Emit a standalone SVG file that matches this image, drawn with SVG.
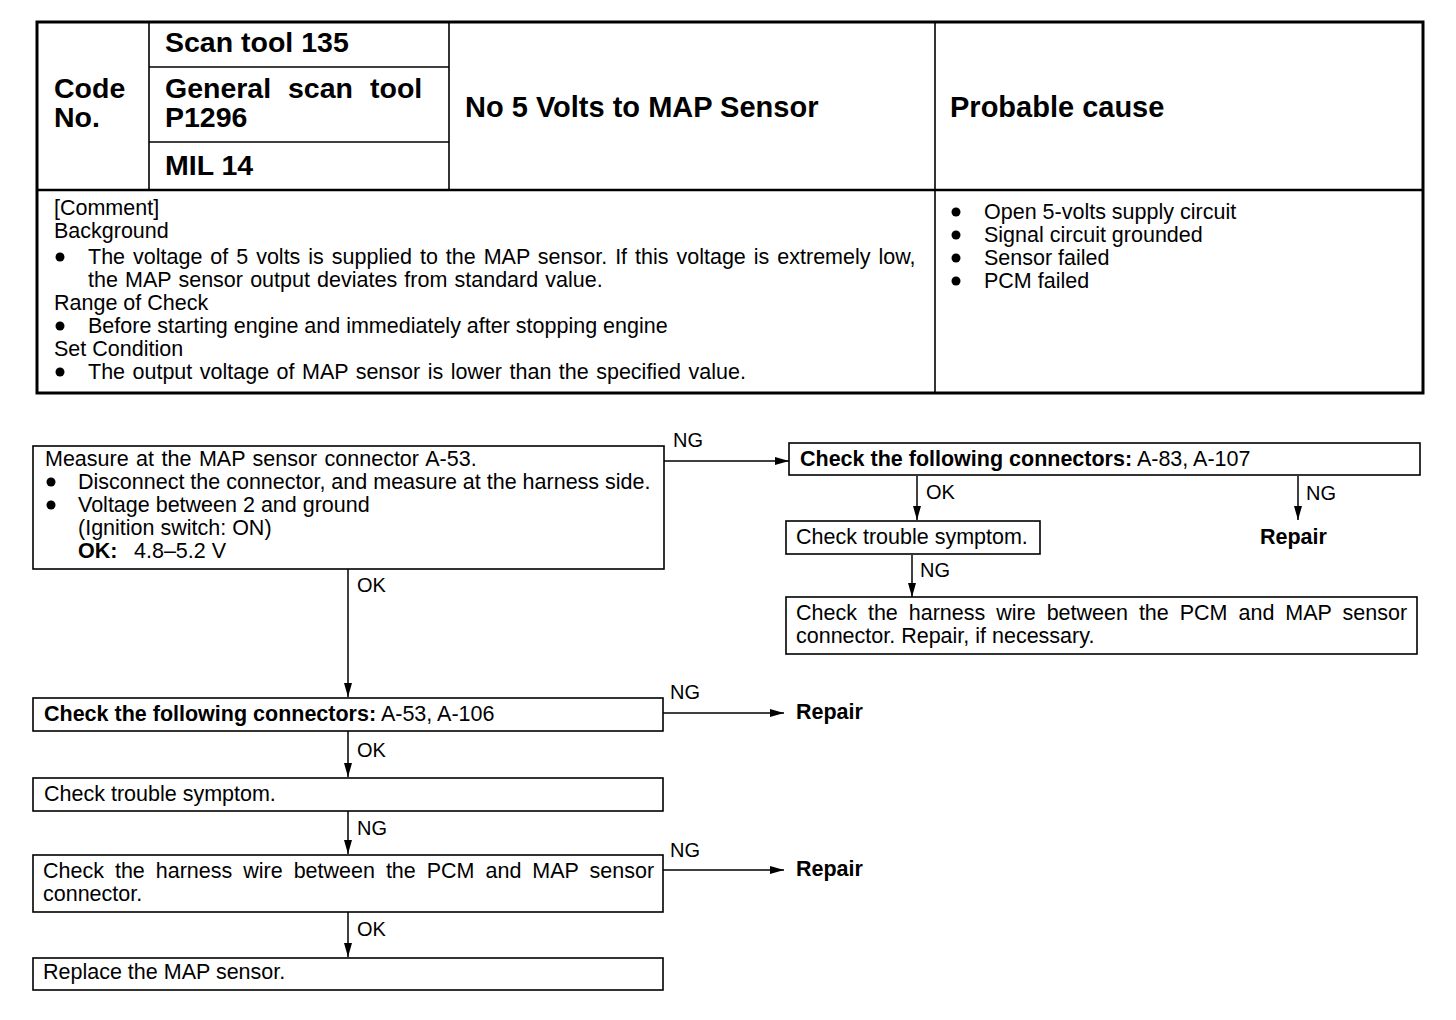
<svg xmlns="http://www.w3.org/2000/svg" width="1456" height="1020" viewBox="0 0 1456 1020">
<style>
text{font-family:"Liberation Sans",Arial,sans-serif;font-size:21.5px;fill:#000}
.b{font-weight:bold}
.h{font-weight:bold;font-size:28.5px}
.t{font-weight:bold;font-size:29px}
.bd{font-size:21.5px}
.box{fill:#fff;stroke:#000;stroke-width:1.6}
.tl{stroke:#000;stroke-width:1.6;fill:none}
.conn{stroke:#000;stroke-width:1.5;fill:none}
.lab{font-size:20px}
</style>
<defs>
<marker id="ah" markerUnits="userSpaceOnUse" markerWidth="15" markerHeight="10" refX="14" refY="5" orient="auto">
<path d="M0,1 L14,5 L0,9 z" fill="#000"/>
</marker>
</defs>
<rect width="1456" height="1020" fill="#fff"/>

<g id="header-table">
<rect x="37" y="22" width="1386" height="371" fill="none" stroke="#000" stroke-width="3"/>
<line class="tl" x1="37" y1="190" x2="1423" y2="190" style="stroke-width:2.5"/>
<line class="tl" x1="149" y1="22" x2="149" y2="190"/>
<line class="tl" x1="449" y1="22" x2="449" y2="190"/>
<line class="tl" x1="935" y1="22" x2="935" y2="393"/>
<line class="tl" x1="149" y1="67" x2="449" y2="67"/>
<line class="tl" x1="149" y1="142" x2="449" y2="142"/>
<text class="h" x="54" y="98">Code</text>
<text class="h" x="54" y="127">No.</text>
<text class="h" x="165" y="52">Scan tool 135</text>
<text class="h" y="98"><tspan x="165">General</tspan><tspan x="288">scan</tspan><tspan x="370">tool</tspan></text>
<text class="h" x="165" y="127">P1296</text>
<text class="h" x="165" y="175">MIL 14</text>
<text class="t" x="465" y="117">No 5 Volts to MAP Sensor</text>
<text class="t" x="950" y="117">Probable cause</text>
<text class="bd" x="54" y="215">[Comment]</text>
<text class="bd" x="54" y="238">Background</text>
<circle cx="60" cy="257" r="4.5"/>
<text class="bd" x="88" y="264" word-spacing="2">The voltage of 5 volts is supplied to the MAP sensor. If this voltage is extremely low,</text>
<text class="bd" x="88" y="287" word-spacing="1.2">the MAP sensor output deviates from standard value.</text>
<text class="bd" x="54" y="310">Range of Check</text>
<circle cx="60" cy="326" r="4.5"/>
<text class="bd" x="88" y="333">Before starting engine and immediately after stopping engine</text>
<text class="bd" x="54" y="356">Set Condition</text>
<circle cx="60" cy="372" r="4.5"/>
<text class="bd" x="88" y="379" word-spacing="1.5">The output voltage of MAP sensor is lower than the specified value.</text>
<circle cx="956" cy="212" r="4.5"/>
<text class="bd" x="984" y="219">Open 5-volts supply circuit</text>
<circle cx="956" cy="235" r="4.5"/>
<text class="bd" x="984" y="242">Signal circuit grounded</text>
<circle cx="956" cy="258" r="4.5"/>
<text class="bd" x="984" y="265">Sensor failed</text>
<circle cx="956" cy="281" r="4.5"/>
<text class="bd" x="984" y="288">PCM failed</text>
</g>

<g id="connectors">
<line class="conn" x1="664" y1="461" x2="789" y2="461" marker-end="url(#ah)"/>
<text class="lab" x="673" y="447">NG</text>
<line class="conn" x1="917" y1="476" x2="917" y2="520" marker-end="url(#ah)"/>
<text class="lab" x="926" y="499">OK</text>
<line class="conn" x1="1298" y1="476" x2="1298" y2="520" marker-end="url(#ah)"/>
<text class="lab" x="1306" y="500">NG</text>
<line class="conn" x1="912" y1="555" x2="912" y2="597" marker-end="url(#ah)"/>
<text class="lab" x="920" y="577">NG</text>
<line class="conn" x1="348" y1="569" x2="348" y2="697" marker-end="url(#ah)"/>
<text class="lab" x="357" y="592">OK</text>
<line class="conn" x1="663" y1="713" x2="784" y2="713" marker-end="url(#ah)"/>
<text class="lab" x="670" y="699">NG</text>
<line class="conn" x1="348" y1="731" x2="348" y2="777" marker-end="url(#ah)"/>
<text class="lab" x="357" y="757">OK</text>
<line class="conn" x1="348" y1="811" x2="348" y2="854" marker-end="url(#ah)"/>
<text class="lab" x="357" y="835">NG</text>
<line class="conn" x1="663" y1="870" x2="784" y2="870" marker-end="url(#ah)"/>
<text class="lab" x="670" y="857">NG</text>
<line class="conn" x1="348" y1="912" x2="348" y2="957" marker-end="url(#ah)"/>
<text class="lab" x="357" y="936">OK</text>
</g>

<g id="n1">
<rect class="box" x="33" y="446" width="631" height="123"/>
<text x="45" y="466" word-spacing="1.5">Measure at the MAP sensor connector A-53.</text>
<circle cx="51" cy="482" r="4.5"/>
<text x="78" y="489">Disconnect the connector, and measure at the harness side.</text>
<circle cx="51" cy="505" r="4.5"/>
<text x="78" y="512">Voltage between 2 and ground</text>
<text x="78" y="535">(Ignition switch: ON)</text>
<text y="558"><tspan x="78" class="b">OK:</tspan><tspan x="134">4.8–5.2 V</tspan></text>
</g>
<g id="n2">
<rect class="box" x="789" y="443" width="631" height="32"/>
<text x="800" y="466"><tspan class="b">Check the following connectors:</tspan> A-83, A-107</text>
</g>
<g id="n3">
<rect class="box" x="786" y="521" width="254" height="33"/>
<text x="796" y="544">Check trouble symptom.</text>
</g>
<g id="n-repair1">
<text class="b" x="1260" y="544">Repair</text>
</g>
<g id="n4">
<rect class="box" x="786" y="597" width="631" height="57"/>
<text x="796" y="620" word-spacing="5">Check the harness wire between the PCM and MAP sensor</text>
<text x="796" y="643">connector. Repair, if necessary.</text>
</g>
<g id="n5">
<rect class="box" x="33" y="698" width="630" height="33"/>
<text x="44" y="721"><tspan class="b">Check the following connectors:</tspan> A-53, A-106</text>
</g>
<g id="n-repair2">
<text class="b" x="796" y="719">Repair</text>
</g>
<g id="n6">
<rect class="box" x="33" y="778" width="630" height="33"/>
<text x="44" y="801">Check trouble symptom.</text>
</g>
<g id="n7">
<rect class="box" x="33" y="855" width="630" height="57"/>
<text x="43" y="878" word-spacing="5">Check the harness wire between the PCM and MAP sensor</text>
<text x="43" y="901">connector.</text>
</g>
<g id="n-repair3">
<text class="b" x="796" y="876">Repair</text>
</g>
<g id="n8">
<rect class="box" x="33" y="958" width="630" height="32"/>
<text x="43" y="979">Replace the MAP sensor.</text>
</g>
</svg>
